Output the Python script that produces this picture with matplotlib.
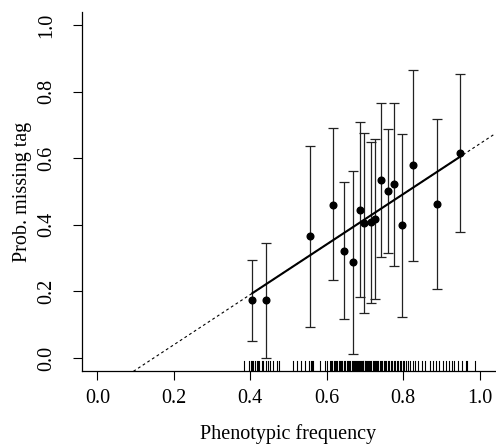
import numpy as np
import matplotlib
matplotlib.use("Agg")
import matplotlib.pyplot as plt

# per-group phenotypic frequency vs. probability of a missing tag
freq = [0.405, 0.441, 0.555, 0.617, 0.644, 0.668, 0.686, 0.697, 0.716,
        0.727, 0.742, 0.760, 0.776, 0.797, 0.827, 0.888, 0.949]
prob = [0.174, 0.174, 0.365, 0.461, 0.321, 0.287, 0.446, 0.405, 0.407,
        0.417, 0.535, 0.502, 0.523, 0.398, 0.579, 0.462, 0.615]
upper = [0.294, 0.346, 0.637, 0.690, 0.528, 0.561, 0.708, 0.675, 0.650,
         0.657, 0.767, 0.687, 0.767, 0.672, 0.865, 0.719, 0.854]
lower = [0.052, 0.001, 0.094, 0.233, 0.116, 0.012, 0.184, 0.136, 0.166,
         0.177, 0.303, 0.315, 0.277, 0.124, 0.290, 0.206, 0.377]

# fitted line
intercept = -0.111
slope = 0.754

# individual frequencies shown as a rug
rug = [0.3835, 0.397, 0.401, 0.4036, 0.408, 0.412, 0.4167, 0.421, 0.4236,
       0.430, 0.434, 0.441, 0.4455, 0.4516, 0.4586, 0.469, 0.476,
       0.5126, 0.5214, 0.532, 0.543, 0.5545, 0.558, 0.5615, 0.565,
       0.582, 0.5955, 0.600,
       0.609, 0.612, 0.615, 0.618, 0.621, 0.625, 0.628, 0.631, 0.634,
       0.638, 0.641, 0.645, 0.648, 0.652, 0.655, 0.659, 0.662, 0.665,
       0.668, 0.671, 0.673, 0.676, 0.679, 0.681, 0.684, 0.686, 0.689,
       0.691, 0.694, 0.696, 0.699, 0.701, 0.704, 0.706, 0.709, 0.711,
       0.714, 0.717, 0.720, 0.723, 0.726, 0.729, 0.732, 0.735, 0.739,
       0.742, 0.745, 0.749, 0.752, 0.756, 0.760, 0.763, 0.767, 0.771,
       0.775, 0.779, 0.783, 0.787, 0.791, 0.795, 0.799, 0.803, 0.808,
       0.813, 0.818,
       0.825, 0.832, 0.840, 0.849, 0.857, 0.870, 0.879, 0.886, 0.895,
       0.905, 0.912, 0.919, 0.927, 0.933, 0.9445, 0.953, 0.9647, 0.968,
       0.988]

ticks = [0.0, 0.2, 0.4, 0.6, 0.8, 1.0]

plt.rcParams['font.family'] = ['Liberation Serif', 'DejaVu Serif']

fig = plt.figure(figsize=(4.96, 4.45), dpi=100)
ax = fig.add_axes([0.1657, 0.1656, 0.832, 0.808])

freq = np.array(freq)
prob = np.array(prob)
yerr = [prob - np.array(lower), np.array(upper) - prob]
ax.errorbar(freq, prob, yerr=yerr, fmt='none', ecolor='#222222',
            elinewidth=0.9, capsize=3.6, capthick=0.9, zorder=2)
ax.plot(freq, prob, 'o', color='black', markersize=4.8, zorder=4)

# dashed extension across the whole region, solid over the data range
ax.axline((0, intercept), slope=slope, color='black', lw=0.8,
          linestyle=(0, (2.5, 2.5)), zorder=1)
xs = np.array([freq.min(), freq.max()])
ax.plot(xs, intercept + slope * xs, color='black', lw=1.5, zorder=3)

# rug along the bottom
for r in rug:
    ax.axvline(r, ymin=0, ymax=0.03, color='black', lw=0.8)

ax.set_xlim(-0.04, 1.04)
ax.set_ylim(-0.04, 1.04)
ax.set_xticks(ticks)
ax.set_yticks(ticks)
ax.set_xticklabels([f"{t:.1f}" for t in ticks])
ax.set_yticklabels([f"{t:.1f}" for t in ticks], rotation=90, va='center')
ax.tick_params(direction='out', length=6.5, width=0.8, labelsize=14.5)
ax.tick_params(axis='x', pad=6)
ax.tick_params(axis='y', pad=12)

for s in ['top', 'right']:
    ax.spines[s].set_visible(False)
for s in ['left', 'bottom']:
    ax.spines[s].set_linewidth(0.9)

ax.set_xlabel("Phenotypic frequency", fontsize=14.5, labelpad=12)
ax.set_ylabel("Prob. missing tag", fontsize=14.5, labelpad=4)

fig.savefig("out.png", dpi=100)
